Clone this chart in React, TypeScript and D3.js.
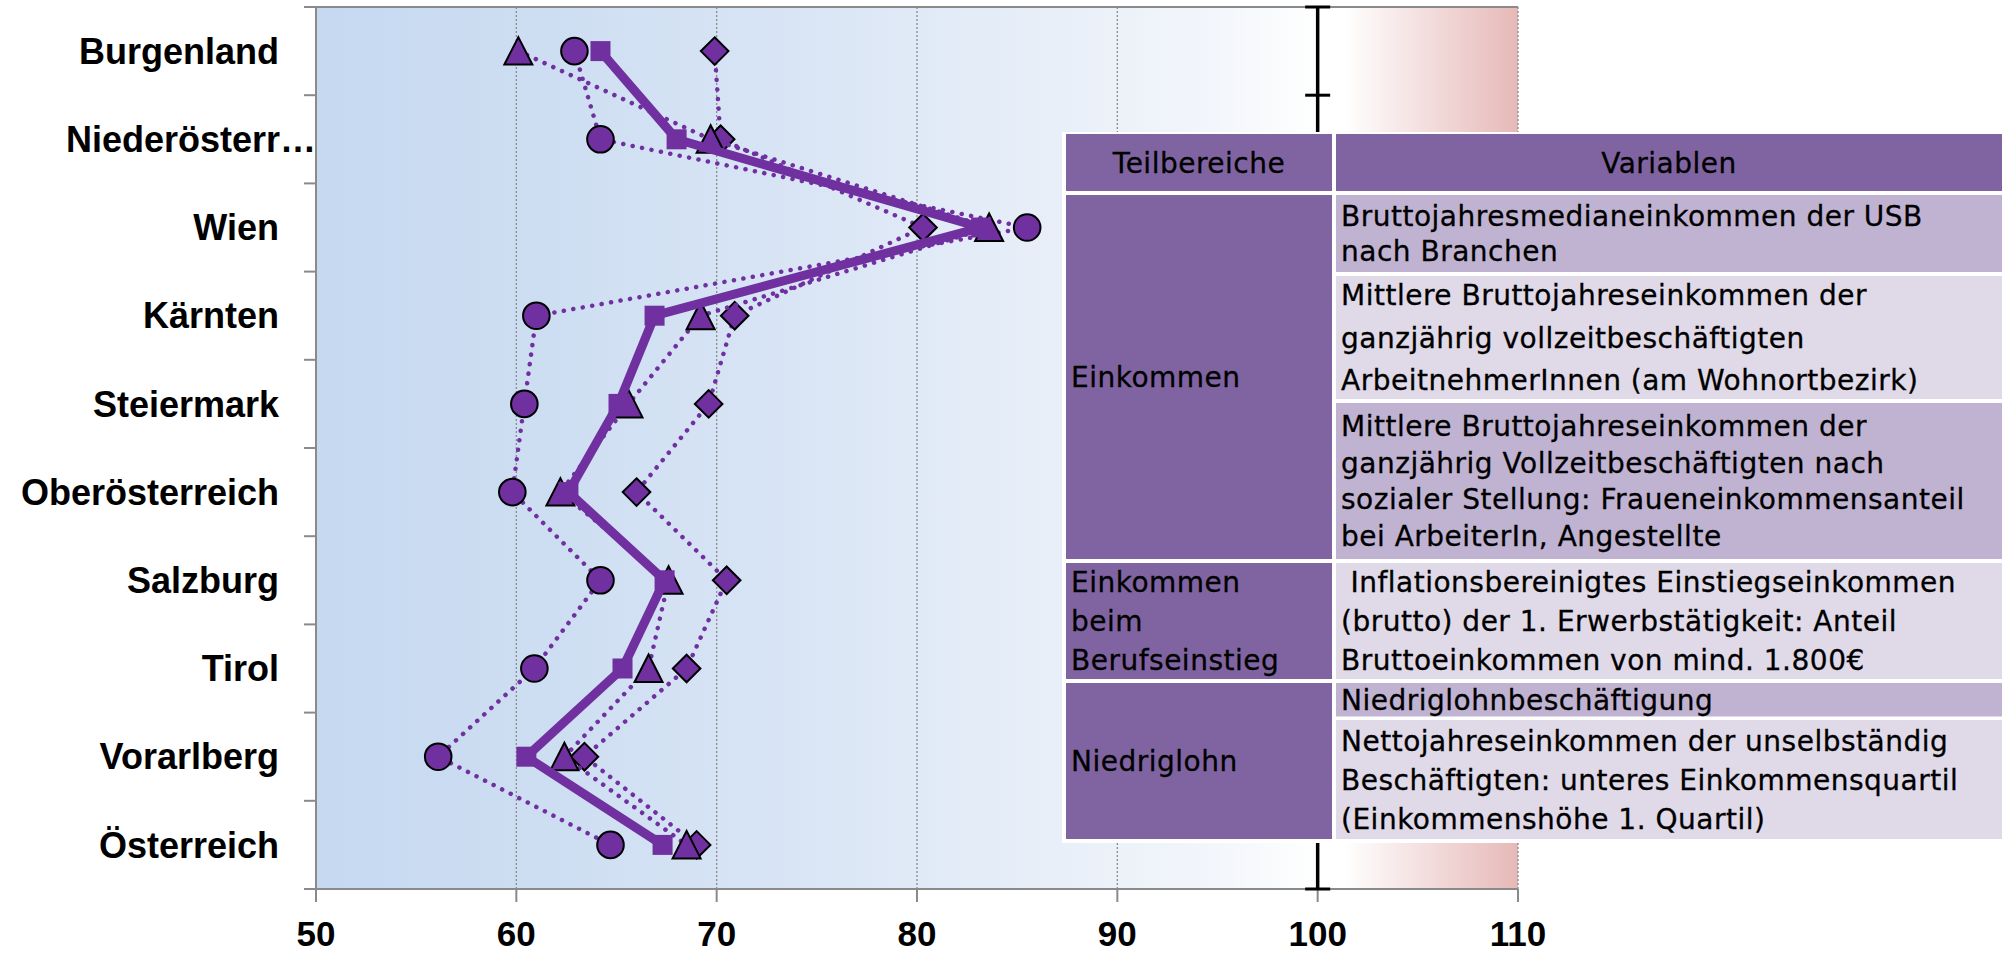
import React from 'react';
import * as d3 from 'd3';

// ---------- data ----------
const categories = ['Burgenland', 'Niederösterreich', 'Wien', 'Kärnten', 'Steiermark', 'Oberösterreich', 'Salzburg', 'Tirol', 'Vorarlberg', 'Österreich'];
const categoryLabels = ['Burgenland', 'Niederösterr…', 'Wien', 'Kärnten', 'Steiermark', 'Oberösterreich', 'Salzburg', 'Tirol', 'Vorarlberg', 'Österreich'];

const seriesSquare = [64.2, 68.0, 83.2, 66.9, 65.1, 62.6, 67.4, 65.3, 60.5, 67.3];
const seriesCircle = [62.9, 64.2, 85.5, 61.0, 60.4, 59.8, 64.2, 60.9, 56.1, 64.7];
const seriesTriangle = [60.1, 69.7, 83.6, 69.2, 65.6, 62.2, 67.6, 66.6, 62.4, 68.5];
const seriesDiamond = [69.9, 70.2, 80.3, 70.9, 69.6, 66.0, 70.5, 68.5, 63.4, 69.0];

const xTicks = [50, 60, 70, 80, 90, 100, 110];
const referenceValue = 100;

const tableHeader = ['Teilbereiche', 'Variablen'];
const groupLabels = [['Einkommen'], ['Einkommen', 'beim', 'Berufseinstieg'], ['Niedriglohn']];
const variableTexts = [
  ['Bruttojahresmedianeinkommen der USB', 'nach Branchen'],
  ['Mittlere Bruttojahreseinkommen der', 'ganzjährig vollzeitbeschäftigten', 'ArbeitnehmerInnen (am Wohnortbezirk)'],
  ['Mittlere Bruttojahreseinkommen der', 'ganzjährig Vollzeitbeschäftigten nach', 'sozialer Stellung: Fraueneinkommensanteil', 'bei ArbeiterIn, Angestellte'],
  [' Inflationsbereinigtes Einstiegseinkommen', '(brutto) der 1. Erwerbstätigkeit: Anteil', 'Bruttoeinkommen von mind. 1.800€'],
  ['Niedriglohnbeschäftigung'],
  ['Nettojahreseinkommen der unselbständig', 'Beschäftigten: unteres Einkommensquartil', '(Einkommenshöhe 1. Quartil)'],
];

// ---------- layout ----------
const W = 2002;
const H = 956;
const PLOT_L = 316;
const PLOT_R = 1518;
const PLOT_T = 7;
const PLOT_B = 889;
const PURPLE = '#7030A0';
const AXIS = '#8A8A8A';
const LABEL_FONT = '"Liberation Sans", Arial, sans-serif';
const TABLE_FONT = '"DejaVu Sans", Verdana, sans-serif';

// table geometry
const TBL = { x0: 1062, y0: 132, x1: 2010, y1: 843 };
const COL1 = [1066, 1332];
const COL2 = [1336, 2010];
const HEADER_Y = [134, 191];
const GROUP_Y = [[195, 559], [563, 679], [683, 839]];
const VAR_Y = [[195, 272], [276, 399], [403, 559], [563, 679], [683, 716.5], [720, 839]];
const VAR_FILL = ['#C0B3D2', '#DFD9E8', '#C0B3D2', '#DFD9E8', '#C0B3D2', '#DFD9E8'];
const HEAD_FILL = '#8064A2';
const LINE_H = [35, 42.5, 36.5, 38.8, 38, 39];

export default function App() {
  const x = d3.scaleLinear().domain([50, 110]).range([PLOT_L, PLOT_R]);
  const y = d3.scaleBand<string>().domain(categories).range([PLOT_T, PLOT_B]).padding(0);
  const bw = y.bandwidth();
  const cy = (i: number) => (y(categories[i]) as number) + bw / 2;

  const line = d3
    .line<number>()
    .x((d) => x(d))
    .y((_, i) => cy(i));

  const dotted = {
    fill: 'none',
    stroke: PURPLE,
    strokeWidth: 4.5,
    strokeDasharray: '0.1 9.5',
    strokeLinecap: 'round' as const,
  };

  const boundaries = d3.range(categories.length + 1).map((k) => PLOT_T + k * bw);

  const textLines = (lines: string[], xPos: number, top: number, bottom: number, lh: number, anchor: string = 'start') => {
    const center = (top + bottom) / 2;
    const n = lines.length;
    return lines.map((t, i) => (
      <text
        key={i}
        x={xPos}
        y={center + 10 + (i - (n - 1) / 2) * lh}
        fontFamily={TABLE_FONT}
        fontSize={28}
        letterSpacing={0.5}
        textAnchor={anchor}
        fill="#000"
        stroke="#000"
        strokeWidth={0.3}
        style={{ whiteSpace: 'pre' }}
      >
        {t}
      </text>
    ));
  };

  return (
    <div style={{ position: 'absolute', left: 0, top: 0, width: W, height: H, background: '#fff' }}>
      <svg width={W} height={H} style={{ display: 'block' }}>
        <defs>
          <linearGradient id="bg" gradientUnits="userSpaceOnUse" x1={PLOT_L} y1={0} x2={PLOT_R} y2={0}>
            <stop offset="0" stopColor="#C6D9F1" />
            <stop offset="0.2" stopColor="#CEDEF2" />
            <stop offset="0.4" stopColor="#D9E5F5" />
            <stop offset="0.6" stopColor="#E7EEF8" />
            <stop offset="0.75" stopColor="#F3F6FB" />
            <stop offset="0.835" stopColor="#FFFFFF" />
            <stop offset="0.855" stopColor="#FFFFFF" />
            <stop offset="1" stopColor="#E6B9B8" />
          </linearGradient>
        </defs>

        {/* plot background */}
        <rect x={PLOT_L} y={PLOT_T} width={PLOT_R - PLOT_L} height={PLOT_B - PLOT_T} fill="url(#bg)" />

        {/* gridlines */}
        {xTicks.slice(1).map((t) => (
          <line key={t} x1={x(t)} x2={x(t)} y1={PLOT_T} y2={PLOT_B} stroke="#8C8C8C" strokeWidth={1.3} strokeDasharray="2 2" />
        ))}

        {/* axes */}
        <line x1={PLOT_L} x2={PLOT_R} y1={PLOT_T} y2={PLOT_T} stroke={AXIS} strokeWidth={2} />
        <line x1={PLOT_L} x2={PLOT_L} y1={PLOT_T} y2={PLOT_B} stroke={AXIS} strokeWidth={2} />
        <line x1={PLOT_L} x2={PLOT_R} y1={PLOT_B} y2={PLOT_B} stroke={AXIS} strokeWidth={2} />
        {boundaries.map((b, k) => (
          <line key={k} x1={PLOT_L - 12} x2={PLOT_L} y1={b} y2={b} stroke={AXIS} strokeWidth={2} />
        ))}
        {xTicks.map((t) => (
          <line key={t} x1={x(t)} x2={x(t)} y1={PLOT_B} y2={PLOT_B + 13} stroke={AXIS} strokeWidth={2} />
        ))}

        {/* x tick labels */}
        {xTicks.map((t) => (
          <text key={t} x={x(t)} y={946} textAnchor="middle" fontFamily={LABEL_FONT} fontWeight={700} fontSize={35} fill="#000">
            {t}
          </text>
        ))}

        {/* category labels */}
        {categoryLabels.map((c, i) => (
          <text
            key={c}
            x={c.endsWith('…') ? PLOT_L : 279}
            y={cy(i)}
            dy="0.35em"
            textAnchor="end"
            fontFamily={LABEL_FONT}
            fontWeight={700}
            fontSize={36}
            fill="#000"
          >
            {c}
          </text>
        ))}

        {/* reference (100) bar */}
        <line x1={x(referenceValue)} x2={x(referenceValue)} y1={PLOT_T} y2={PLOT_B} stroke="#000" strokeWidth={3.5} />
        {[PLOT_T, boundaries[1], PLOT_B].map((yy, k) => (
          <line key={k} x1={x(referenceValue) - 12.5} x2={x(referenceValue) + 12.5} y1={yy} y2={yy} stroke="#000" strokeWidth={3} />
        ))}

        {/* circle series */}
        <path d={line(seriesCircle) as string} {...dotted} />
        {seriesCircle.map((v, i) => (
          <circle key={i} cx={x(v)} cy={cy(i)} r={13.3} fill={PURPLE} stroke="#000" strokeWidth={2} />
        ))}

        {/* diamond series */}
        <path d={line(seriesDiamond) as string} {...dotted} />
        {seriesDiamond.map((v, i) => {
          const px = x(v);
          const py = cy(i);
          const s = 13.8;
          return (
            <path key={i} d={`M${px},${py - s}L${px + s},${py}L${px},${py + s}L${px - s},${py}Z`} fill={PURPLE} stroke="#000" strokeWidth={2} />
          );
        })}

        {/* triangle series */}
        <path d={line(seriesTriangle) as string} {...dotted} />
        {seriesTriangle.map((v, i) => {
          const px = x(v);
          const py = cy(i);
          return (
            <path key={i} d={`M${px},${py - 14}L${px + 14},${py + 13.5}L${px - 14},${py + 13.5}Z`} fill={PURPLE} stroke="#000" strokeWidth={2} />
          );
        })}

        {/* square series (thick) */}
        <path d={line(seriesSquare) as string} fill="none" stroke={PURPLE} strokeWidth={9} strokeLinejoin="round" />
        {seriesSquare.map((v, i) => (
          <rect key={i} x={x(v) - 10} y={cy(i) - 10} width={20} height={20} fill={PURPLE} />
        ))}

        {/* table */}
        <rect x={TBL.x0} y={TBL.y0} width={TBL.x1 - TBL.x0} height={TBL.y1 - TBL.y0} fill="#fff" />
        <rect x={COL1[0]} y={HEADER_Y[0]} width={COL1[1] - COL1[0]} height={HEADER_Y[1] - HEADER_Y[0]} fill={HEAD_FILL} />
        <rect x={COL2[0]} y={HEADER_Y[0]} width={COL2[1] - COL2[0]} height={HEADER_Y[1] - HEADER_Y[0]} fill={HEAD_FILL} />
        {textLines([tableHeader[0]], (COL1[0] + COL1[1]) / 2, HEADER_Y[0], HEADER_Y[1], 38, 'middle')}
        {textLines([tableHeader[1]], (COL2[0] + 2002) / 2, HEADER_Y[0], HEADER_Y[1], 38, 'middle')}

        {groupLabels.map((lines, g) => (
          <g key={g}>
            <rect x={COL1[0]} y={GROUP_Y[g][0]} width={COL1[1] - COL1[0]} height={GROUP_Y[g][1] - GROUP_Y[g][0]} fill={HEAD_FILL} />
            {textLines(lines, 1071, GROUP_Y[g][0], GROUP_Y[g][1], 38.8)}
          </g>
        ))}

        {variableTexts.map((lines, k) => (
          <g key={k}>
            <rect x={COL2[0]} y={VAR_Y[k][0]} width={COL2[1] - COL2[0]} height={VAR_Y[k][1] - VAR_Y[k][0]} fill={VAR_FILL[k]} />
            {textLines(lines, 1341, VAR_Y[k][0], VAR_Y[k][1], LINE_H[k])}
          </g>
        ))}
      </svg>
    </div>
  );
}
